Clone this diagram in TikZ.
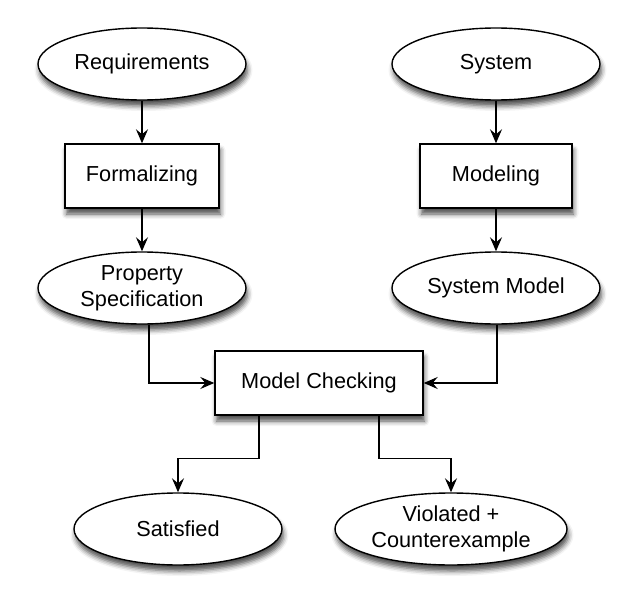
\documentclass[tikz,border=0pt]{standalone}
\usepackage{fontspec}
\setmainfont{Liberation Sans}
\usetikzlibrary{arrows.meta,shapes.geometric,shadows.blur}
\begin{document}
\begin{tikzpicture}[x=1pt,y=1pt,
  every node/.style={font=\fontsize{21.7}{26}\selectfont},
  shad/.style={blur shadow={shadow xshift=1.5pt, shadow yshift=-6pt, shadow blur radius=5pt, shadow opacity=70}},
  oval/.style={ellipse, draw, line width=1.4pt, fill=white, minimum width=208pt, minimum height=72pt, inner sep=0pt, align=center, shad},
  box/.style={rectangle, draw, line width=1.4pt, fill=white, minimum height=64pt, align=center, shad},
  conn/.style={line width=1.4pt, -{Stealth[length=14pt,width=12pt,inset=5pt]}}]
\useasboundingbox (0,0) rectangle (635,-610);
\node[oval] (req) at (142,-64) {Requirements};
\node[box, minimum width=154pt] (form) at (142,-176) {Formalizing};
\node[oval] (prop) at (142,-288) {Property\\Specification};
\node[oval] (sys) at (496,-64) {System};
\node[box, minimum width=152pt] (mod) at (496,-176) {Modeling};
\node[oval] (sysm) at (496,-288) {System Model};
\node[box, minimum width=208pt] (mc) at (319,-383) {Model Checking};
\node[oval] (sat) at (178,-529) {Satisfied};
\node[oval, minimum width=232pt] (vio) at (451,-529) {Violated +\\Counterexample};
\draw[conn] (req) -- (form);
\draw[conn] (form) -- (prop);
\draw[conn] (sys) -- (mod);
\draw[conn] (mod) -- (sysm);
\draw[conn] ([xshift=7pt]prop.south) |- (mc.west);
\draw[conn] ([xshift=1pt]sysm.south) |- (mc.east);
\draw[conn] ([xshift=-60pt]mc.south) -- ++(0,-43) -| (sat.north);
\draw[conn] ([xshift=60pt]mc.south) -- ++(0,-43) -| (vio.north);
\end{tikzpicture}
\end{document}
